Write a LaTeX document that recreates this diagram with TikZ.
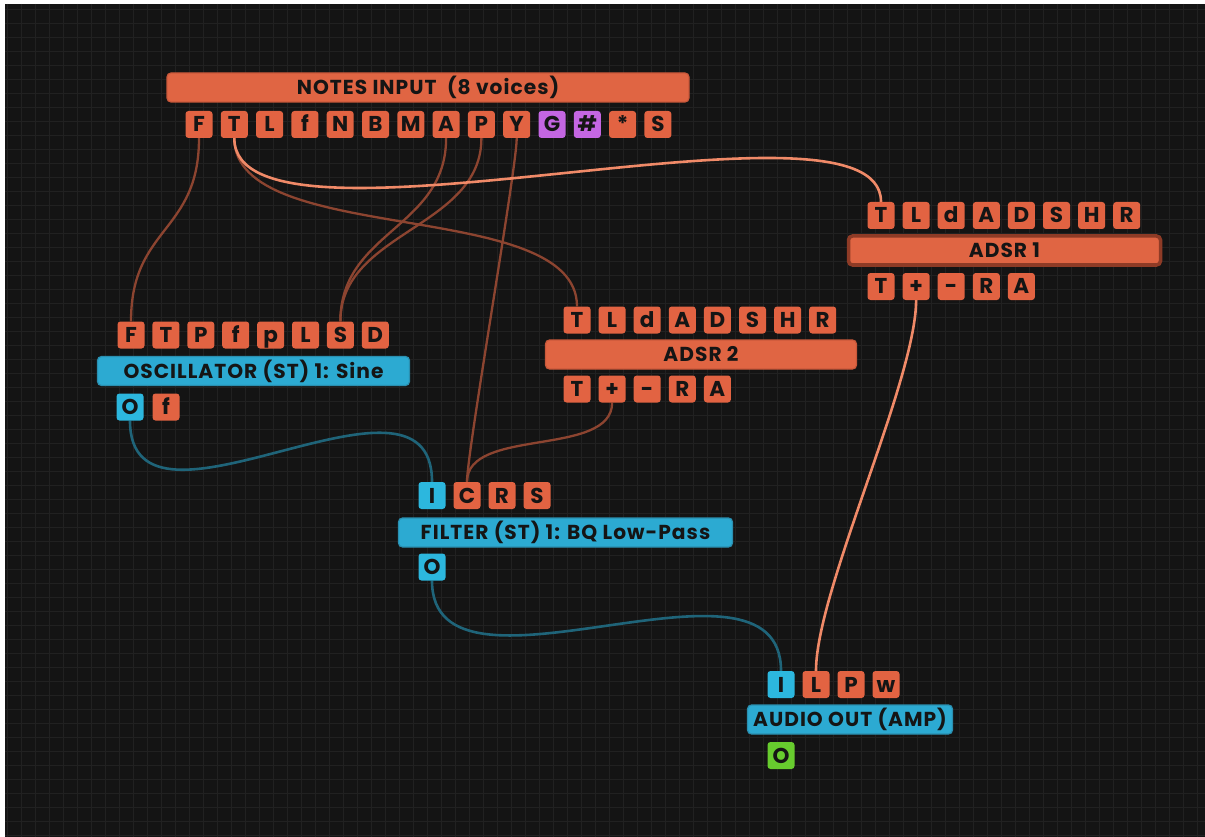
\documentclass[tikz,border=0pt]{standalone}
\usepackage{fontspec}
\setmainfont{Poppins}
\newfontfamily\titlefont{Poppins}[LetterSpace=5]
\definecolor{bgC}{HTML}{141414}
\definecolor{gridC}{HTML}{212121}
\definecolor{orC}{HTML}{E26342}
\definecolor{orBar}{HTML}{E06543}
\definecolor{orBd}{HTML}{C9583A}
\definecolor{selBd}{HTML}{8E3B26}
\definecolor{blC}{HTML}{2CB7DE}
\definecolor{blBar}{HTML}{2CAAD2}
\definecolor{blBd}{HTML}{2A8FB0}
\definecolor{puC}{HTML}{C466E2}
\definecolor{grC}{HTML}{67CC2E}
\definecolor{txtC}{HTML}{151515}
\definecolor{wDark}{HTML}{8C4430}
\definecolor{wLight}{HTML}{F08A68}
\definecolor{wTeal}{HTML}{1F6479}
\pgfdeclarelayer{back}
\pgfdeclarelayer{wires}
\pgfsetlayers{back,wires,main}
\begin{document}
\begin{tikzpicture}[x=1pt,y=-1pt,
  port/.style={rounded corners=3pt, minimum width=27pt, minimum height=27pt, inner sep=0pt,
    text height=15pt, text depth=0pt, font=\bfseries\fontsize{21.5}{21.5}\selectfont, text=txtC},
  op/.style={port, fill=orC},
  bp/.style={port, fill=blC},
  pp/.style={port, fill=puC},
  gp/.style={port, fill=grC},
  bar/.style={rounded corners=4pt, minimum height=29pt, inner sep=0pt, text height=14pt, text depth=0pt,
    font=\titlefont\bfseries\fontsize{20.2}{20.2}\selectfont, text=txtC, line width=1.2pt},
  obar/.style={bar, fill=orBar, draw=orBd},
  bbar/.style={bar, fill=blBar, draw=blBd},
  wdark/.style={draw=wDark, line width=2.3pt},
  wlight/.style={draw=wLight, line width=2.6pt},
  wteal/.style={draw=wTeal, line width=2.6pt}
]
\useasboundingbox (0,0) rectangle (1205,837);
\begin{pgfonlayer}{back}
\fill[white] (0,0) rectangle (1205,837);
\fill[bgC] (5,4) rectangle (1205,837);
\foreach \i in {0,...,85} \draw[gridC, line width=1.4pt] ({7.7+14*\i},4) -- ({7.7+14*\i},837);
\foreach \j in {0,...,59} \draw[gridC, line width=1.4pt] (5,{9.3+14*\j}) -- (1205,{9.3+14*\j});
\end{pgfonlayer}

% NOTES INPUT
\node[obar, minimum width=522pt] (notes) at (428,87.5) {NOTES INPUT\ \ (8 voices)};
\foreach \l/\s [count=\i] in {F/op,T/op,L/op,f/op,N/op,B/op,M/op,A/op,P/op,Y/op,G/pp,\#/pp,*/op,S/op}
  \node[\s] (n\i) at ({199+35.3*(\i-1)},124.5) {\l};

% ADSR 1
\node[obar, draw=selBd, line width=3.5pt, minimum width=312pt] (adsrA) at (1004.5,250.5) {ADSR 1};
\foreach \l [count=\i] in {T,L,d,A,D,S,H,R}
  \node[op] (a\i) at ({881+35.1*(\i-1)},215.5) {\l};
\foreach \l [count=\i] in {T,+,-,R,A}
  \node[op] (ab\i) at ({881+35.1*(\i-1)},286.5) {\l};

% OSCILLATOR
\node[bbar, minimum width=312pt] (osc) at (253.5,371) {OSCILLATOR (ST) 1: Sine};
\foreach \l [count=\i] in {F,T,P,f,p,L,S,D}
  \node[op] (o\i) at ({131+34.9*(\i-1)},335) {\l};
\node[bp] (oO) at (130,407) {O};
\node[op] (of) at (166,407) {f};

% ADSR 2
\node[obar, minimum width=311pt] (adsrB) at (701,354.5) {ADSR 2};
\foreach \l [count=\i] in {T,L,d,A,D,S,H,R}
  \node[op] (b\i) at ({577+35.1*(\i-1)},320) {\l};
\foreach \l [count=\i] in {T,+,-,R,A}
  \node[op] (bb\i) at ({577+35.1*(\i-1)},389) {\l};

% FILTER
\node[bbar, minimum width=334pt] (filt) at (565.5,532.5) {FILTER (ST) 1: BQ Low-Pass};
\node[bp] (fI) at (432,495.5) {I};
\node[op] (fC) at (467,495.5) {C};
\node[op] (fR) at (502,495.5) {R};
\node[op] (fS) at (537,495.5) {S};
\node[bp] (fO) at (432,567) {O};

% AUDIO OUT
\node[bbar, minimum width=205pt] (aout) at (850,719.5) {AUDIO OUT (AMP)};
\node[bp] (uI) at (781,684.5) {I};
\node[op] (uL) at (816,684.5) {L};
\node[op] (uP) at (851,684.5) {P};
\node[op] (uw) at (886,684.5) {w};
\node[gp] (uO) at (781,755.5) {O};

% wires
\begin{pgfonlayer}{wires}
\draw[wdark] (n1.south) .. controls +(0,95) and +(0,-95) .. (o1.north);
\draw[wdark] (n2.south) .. controls +(0,110) and +(0,-110) .. (b1.north);
\draw[wdark] (n8.south) .. controls +(0,90) and +(0,-90) .. (o7.north);
\draw[wdark] (n9.south) .. controls +(0,90) and +(0,-90) .. (o7.north);
\draw[wdark] (n10.south) .. controls +(0,30) and +(0,-30) .. (fC.north);
\draw[wdark] (bb2.south) .. controls +(0,55) and +(0,-55) .. (fC.north);
\draw[wlight] (n2.south) .. controls +(0,135) and +(0,-125) .. (a1.north);
\draw[wlight] (ab2.south) .. controls +(0,80) and +(0,-80) .. (uL.north);
\draw[wteal] (oO.south) .. controls +(0,140) and +(0,-140) .. (fI.north);
\draw[wteal] (fO.south) .. controls +(0,140) and +(0,-140) .. (uI.north);
\end{pgfonlayer}
\end{tikzpicture}
\end{document}
